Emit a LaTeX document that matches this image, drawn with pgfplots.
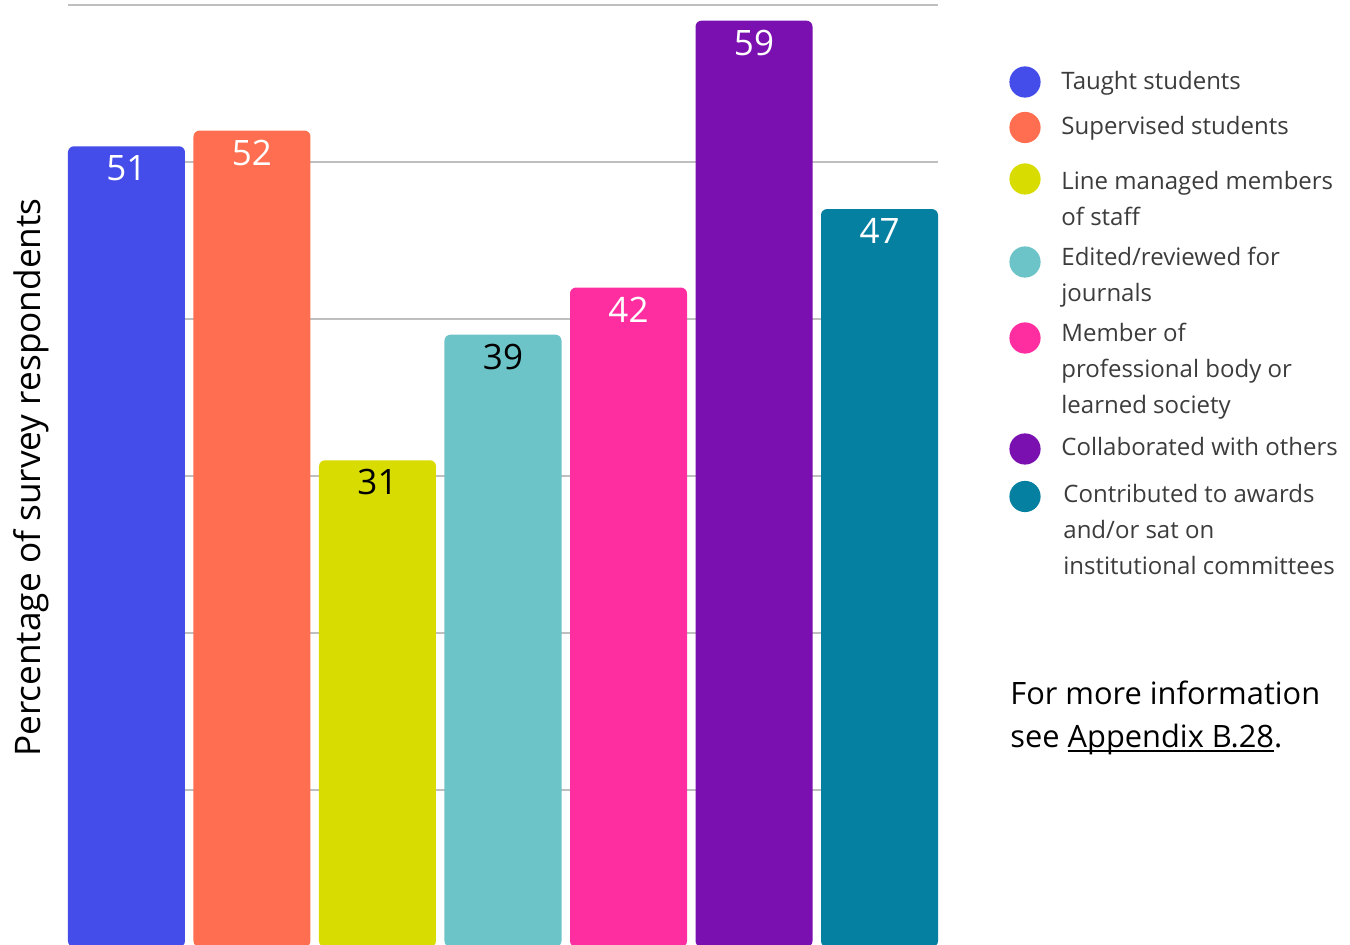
\documentclass[border=0pt]{standalone}
\usepackage{pgfplots}
\pgfplotsset{compat=1.18}
\usepackage{fontspec}
\setmainfont{Open Sans}
\definecolor{cBlue}{HTML}{444CEA}
\definecolor{cOrange}{HTML}{FF6E50}
\definecolor{cYellow}{HTML}{D8DC00}
\definecolor{cTeal}{HTML}{6CC3C8}
\definecolor{cPink}{HTML}{FF2EA0}
\definecolor{cPurple}{HTML}{7A10B0}
\definecolor{cPetrol}{HTML}{0680A0}
\definecolor{legtext}{HTML}{3C3C3C}
\newsavebox\ulbox
\newcommand\myul[1]{\sbox\ulbox{#1}\rlap{\rule[-2pt]{\wd\ulbox}{0.9pt}}\usebox\ulbox}
\begin{document}
\begin{tikzpicture}
\useasboundingbox (0,0) rectangle (675pt,472.5pt);
\begin{axis}[
  at={(34pt,-1pt)}, anchor=south west,
  scale only axis, width=435pt, height=471pt,
  xmin=-0.466, xmax=6.466, ymin=0, ymax=60,
  ybar, bar width=58.5pt, bar shift=0pt,
  ytick={10,20,...,60}, xtick=\empty, yticklabels={}, major tick length=0pt,
  ymajorgrids, grid style={color=black!25, line width=0.7pt},
  axis line style={draw=none},
  clip=false,
  /pgf/number format/assume math mode=true,
  nodes near coords,
  every node near coord/.append style={font=\fontsize{17.5}{20}\selectfont, anchor=center, yshift=-11pt},
  every axis plot/.append style={draw=none, rounded corners=3pt, bar shift=0pt},
]
\addplot[fill=cBlue, every node near coord/.append style={text=white}] coordinates {(0,51)};
\addplot[fill=cOrange, every node near coord/.append style={text=white}] coordinates {(1,52)};
\addplot[fill=cYellow, every node near coord/.append style={text=black}] coordinates {(2,31)};
\addplot[fill=cTeal, every node near coord/.append style={text=black}] coordinates {(3,39)};
\addplot[fill=cPink, every node near coord/.append style={text=white}] coordinates {(4,42)};
\addplot[fill=cPurple, every node near coord/.append style={text=white}] coordinates {(5,59)};
\addplot[fill=cPetrol, every node near coord/.append style={text=white}] coordinates {(6,47)};
\end{axis}
% y label
\node[rotate=90, font=\fontsize{17.6}{20}\selectfont, text=black] at (15.5pt,233.7pt) {Percentage of survey respondents};
% legend
\fill[cBlue]   (512.5pt,431.5pt) circle (7.8pt);
\fill[cOrange] (512.5pt,408.75pt) circle (7.8pt);
\fill[cYellow] (512.5pt,383pt) circle (7.8pt);
\fill[cTeal]   (512.5pt,341.5pt) circle (7.8pt);
\fill[cPink]   (512.5pt,303.5pt) circle (7.8pt);
\fill[cPurple] (512.5pt,248pt) circle (7.8pt);
\fill[cPetrol] (512.5pt,224.25pt) circle (7.8pt);
\begin{scope}[every node/.style={anchor=base west, inner sep=0pt, text=legtext, font=\fontsize{12}{15}\selectfont}]
\node at (530.5pt,427.5pt) {Taught students};
\node at (530.5pt,405pt) {Supervised students};
\node at (530.5pt,377.5pt) {Line managed members};
\node at (530.5pt,359.5pt) {of staff};
\node at (530.5pt,339.5pt) {Edited/reviewed for};
\node at (530.5pt,321.5pt) {journals};
\node at (530.5pt,301.5pt) {Member of};
\node at (530.5pt,283.5pt) {professional body or};
\node at (530.5pt,265.5pt) {learned society};
\node at (530.5pt,244.5pt) {Collaborated with others};
\node at (531.5pt,221pt) {Contributed to awards};
\node at (531.5pt,203pt) {and/or sat on};
\node at (531.5pt,185pt) {institutional committees};
\end{scope}
\begin{scope}[every node/.style={anchor=base west, inner sep=0pt, text=black, font=\fontsize{15.4}{18}\selectfont}]
\node at (505pt,120pt) {For more information};
\node at (505pt,98.5pt) {see \myul{Appendix B.28}.};
\end{scope}
\end{tikzpicture}
\end{document}
